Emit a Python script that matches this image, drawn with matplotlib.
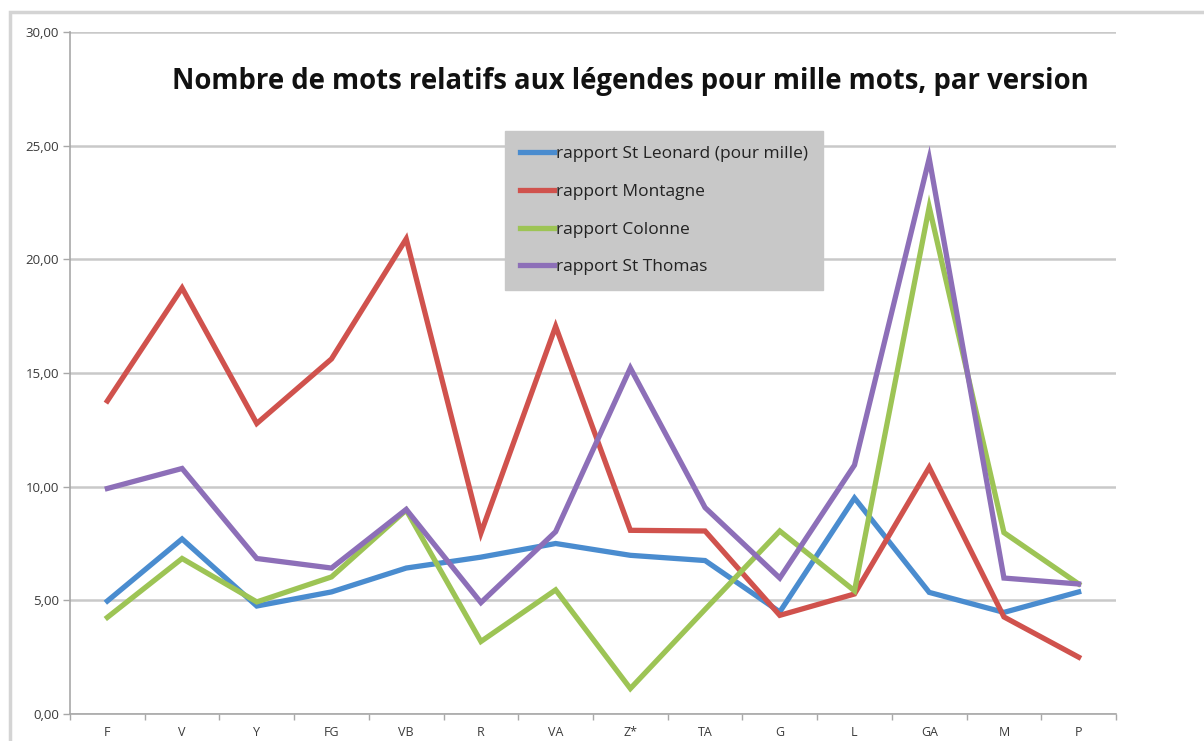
import matplotlib
matplotlib.use("Agg")
import matplotlib.pyplot as plt
from matplotlib.patches import Rectangle
from matplotlib.ticker import FuncFormatter, FixedLocator
import numpy as np

categories = ["F", "V", "Y", "FG", "VB", "R", "VA", "Z*", "TA", "G", "L", "GA", "M", "P"]
st_leonard = [4.97, 7.70, 4.75, 5.37, 6.42, 6.90, 7.50, 6.98, 6.75, 4.49, 9.50, 5.35, 4.47, 5.37]
montagne   = [13.77, 18.74, 12.78, 15.62, 20.90, 7.96, 17.05, 8.08, 8.05, 4.34, 5.28, 10.85, 4.27, 2.50]
colonne    = [4.25, 6.84, 4.93, 6.03, 8.97, 3.19, 5.46, 1.12, 4.60, 8.05, 5.42, 22.30, 7.98, 5.72]
st_thomas  = [9.92, 10.80, 6.84, 6.42, 9.00, 4.90, 8.02, 15.22, 9.08, 5.98, 10.95, 24.44, 5.98, 5.72]

series_labels = ["rapport St Leonard (pour mille)", "rapport Montagne", "rapport Colonne", "rapport St Thomas"]
series_colors = ["#4A8CCF", "#D0524D", "#9DC455", "#8D6FB8"]
title = "Nombre de mots relatifs aux légendes pour mille mots, par version"

W, H = 1204, 741
fig = plt.figure(figsize=(W / 100, H / 100), dpi=100)
plt.rcParams['font.family'] = ['Open Sans', 'DejaVu Sans']

# outer chart frame
fig.patches.append(Rectangle((10 / W, -0.1), 1.2, 1 - 12 / H + 0.1, transform=fig.transFigure,
                             fill=False, edgecolor="#d4d4d4", linewidth=2.5, zorder=0))

ax = fig.add_axes([70 / W, 1 - 714 / H, (1116 - 70) / W, (714 - 32) / H])
x = np.arange(len(categories))
for vals, lab, col in zip([st_leonard, montagne, colonne, st_thomas], series_labels, series_colors):
    ax.plot(x, vals, color=col, linewidth=3.8, label=lab, solid_joinstyle="miter", zorder=3)

ax.set_xlim(-0.5, len(categories) - 0.5)
ax.set_ylim(0, 30)
ax.set_yticks(np.arange(0, 31, 5))
ax.yaxis.set_major_formatter(FuncFormatter(lambda v, p: f"{v:.2f}".replace(".", ",")))
ax.grid(axis="y", color="#c9c9c9", linewidth=1.8, zorder=1)
ax.set_axisbelow(True)

ax.set_xticks(x)
ax.set_xticklabels(categories)
ax.xaxis.set_minor_locator(FixedLocator(np.arange(-0.5, len(categories), 1.0)))
ax.tick_params(axis="x", which="major", length=0, pad=9, labelsize=9, labelcolor="#3a3a3a")
ax.tick_params(axis="x", which="minor", length=4, color="#a8a8a8", width=1)
ax.tick_params(axis="y", length=5, color="#a8a8a8", width=1, pad=3, labelsize=9.5, labelcolor="#3a3a3a")

for s in ["top", "right"]:
    ax.spines[s].set_visible(False)
for s in ["left", "bottom"]:
    ax.spines[s].set_color("#a8a8a8")
    ax.spines[s].set_linewidth(1.2)

fig.text(630 / W, 1 - 82 / H, title, ha="center", va="center", fontsize=19.8, fontweight="bold", color="#111111")

leg = ax.legend(loc="upper left", bbox_to_anchor=(505 / W, 1 - 131 / H), bbox_transform=fig.transFigure,
                frameon=True, fancybox=False, facecolor="#c8c8c8", edgecolor="#c8c8c8", framealpha=1,
                fontsize=12.5, labelspacing=1.25, handlelength=2.0, handletextpad=0.1, borderpad=0.85,
                borderaxespad=0)
for t in leg.get_texts():
    t.set_color("#222222")

fig.savefig("out.png", dpi=100)
